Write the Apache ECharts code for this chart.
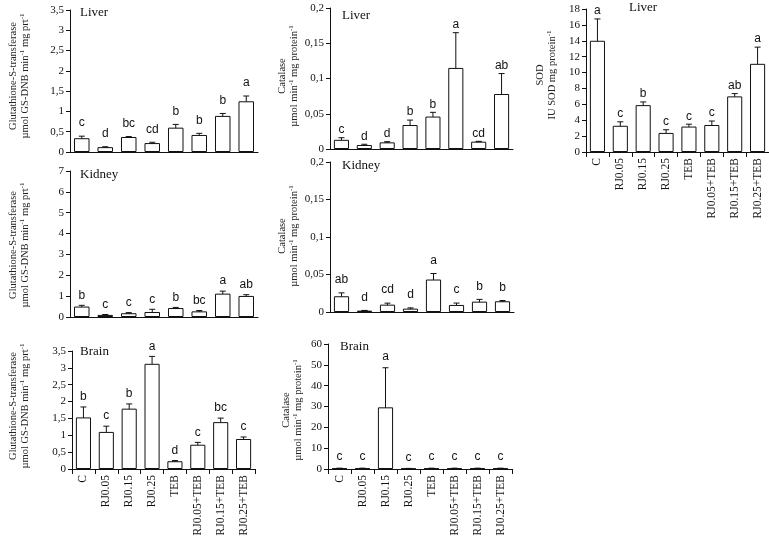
<!DOCTYPE html>
<html>
<head>
<meta charset="utf-8">
<script src="https://cdn.jsdelivr.net/npm/echarts@6/dist/echarts.min.js"></script>
<style>html,body{margin:0;padding:0;background:#fff}#c{width:769px;height:536px}</style>
</head>
<body>
<div id="c"></div>
<script>
var categories = ['C','RJ0.05','RJ0.15','RJ0.25','TEB','RJ0.05+TEB','RJ0.15+TEB','RJ0.25+TEB'];

var gstLiver    = [0.34, 0.12, 0.37, 0.22, 0.60, 0.42, 0.89, 1.25];
var gstLiverErr = [0.05, 0.01, 0.01, 0.02, 0.08, 0.04, 0.06, 0.13];
var gstLiverSig = ['c','d','bc','cd','b','b','b','a'];

var catLiver    = [0.013, 0.0057, 0.0094, 0.034, 0.046, 0.115, 0.0104, 0.078];
var catLiverErr = [0.003, 0.001, 0.001, 0.007, 0.006, 0.05, 0.0005, 0.029];
var catLiverSig = ['c','d','d','b','b','a','cd','ab'];

var sodLiver    = [14.0, 3.3, 5.9, 2.4, 3.2, 3.4, 7.0, 11.1];
var sodLiverErr = [2.75, 0.5, 0.4, 0.4, 0.3, 0.5, 0.35, 2.1];
var sodLiverSig = ['a','c','b','c','c','c','ab','a'];

var gstKidney    = [0.50, 0.10, 0.18, 0.24, 0.43, 0.27, 1.12, 1.01];
var gstKidneyErr = [0.06, 0.02, 0.03, 0.13, 0.03, 0.04, 0.12, 0.06];
var gstKidneySig = ['b','c','c','c','b','bc','a','ab'];

var catKidney    = [0.021, 0.0018, 0.0098, 0.0045, 0.0433, 0.0094, 0.0138, 0.0143];
var catKidneyErr = [0.0045, 0.0003, 0.002, 0.001, 0.008, 0.0025, 0.003, 0.001];
var catKidneySig = ['ab','d','cd','d','a','c','b','b'];

var gstBrain    = [1.53, 1.10, 1.79, 3.12, 0.23, 0.72, 1.39, 0.89];
var gstBrainErr = [0.31, 0.17, 0.14, 0.22, 0.02, 0.07, 0.12, 0.06];
var gstBrainSig = ['b','c','b','a','d','c','bc','c'];

var catBrain    = [0.3, 0.3, 29.6, 0.2, 0.3, 0.3, 0.3, 0.3];
var catBrainErr = [0.1, 0.1, 19.0, 0.1, 0.1, 0.1, 0.1, 0.1];
var catBrainSig = ['c','c','a','c','c','c','c','c'];

var yMin   = [0, 0, 0, 0, 0, 0, 0];
var yMax   = [3.5, 0.2, 18, 7, 0.2, 3.5, 60];
var yStep  = [0.5, 0.05, 2, 1, 0.05, 0.5, 10];

var organs = ['Liver','Liver','Liver','Kidney','Kidney','Brain','Brain'];
var yTitle1 = ['Glutathione-S-transferase','Catalase','SOD','Glutathione-S-transferase','Catalase','Glutathione-S-transferase','Catalase'];
var yTitle2 = [
  '{n|µmol GS-DNB min}{s|-1}{n| mg prt}{s|-1}',
  '{n|µmol min}{s|-1}{n| mg protein}{s|-1}',
  '{n|IU SOD mg protein}{s|-1}',
  '{n|µmol GS-DNB min}{s|-1}{n| mg prt}{s|-1}',
  '{n|µmol min}{s|-1}{n| mg protein}{s|-1}',
  '{n|µmol GS-DNB min}{s|-1}{n| mg prt}{s|-1}',
  '{n|µmol min}{s|-1}{n| mg protein}{s|-1}'
];

var panels = [
  {v: gstLiver,  e: gstLiverErr,  s: gstLiverSig},
  {v: catLiver,  e: catLiverErr,  s: catLiverSig},
  {v: sodLiver,  e: sodLiverErr,  s: sodLiverSig},
  {v: gstKidney, e: gstKidneyErr, s: gstKidneySig},
  {v: catKidney, e: catKidneyErr, s: catKidneySig},
  {v: gstBrain,  e: gstBrainErr,  s: gstBrainSig},
  {v: catBrain,  e: catBrainErr,  s: catBrainSig}
];

// layout (pixels)
var layout = [
  {left: 70,  top: 10,  width: 188, height: 142},
  {left: 330, top: 8,   width: 183, height: 141},
  {left: 586, top: 9,   width: 183, height: 143},
  {left: 70,  top: 171, width: 188, height: 146},
  {left: 330, top: 162, width: 184, height: 150},
  {left: 72,  top: 351, width: 183, height: 118},
  {left: 328, top: 344, width: 184, height: 125}
];
var showCats = [false, false, true, false, false, true, true];
var letterGap = [13, 8, 8, 10, 13, 10, 11];
var titlePos = [[80,14],[342,17],[629,9],[80,176],[342,167],[80,353],[340,348]];
var yTitlePos = [[19,76],[288,76],[546,75],[19,245],[288,236],[19,406],[292,410]];

var SERIF = '"Liberation Serif", "Times New Roman", serif';
var SANS = '"Liberation Sans", Arial, sans-serif';

function fmt(v) { return String(+v.toFixed(4)).replace('.', ','); }

var grid = [], xAxis = [], yAxis = [], series = [], graphic = [];
panels.forEach(function (p, i) {
  grid.push({left: layout[i].left, top: layout[i].top, width: layout[i].width, height: layout[i].height, containLabel: false, outerBoundsMode: 'none'});
  xAxis.push({
    type: 'category', gridIndex: i, data: categories, boundaryGap: true,
    axisLine: {show: true, lineStyle: {color: '#111', width: 1}},
    axisTick: {show: showCats[i], length: 5, inside: false, lineStyle: {color: '#111'}},
    axisLabel: {show: showCats[i], rotate: 90, margin: 6, fontFamily: SERIF, fontSize: 11.5, color: '#111'},
    splitLine: {show: false}
  });
  yAxis.push({
    type: 'value', gridIndex: i, min: yMin[i], max: yMax[i], interval: yStep[i],
    axisLine: {show: true, lineStyle: {color: '#111', width: 1}},
    axisTick: {show: true, length: 4, inside: false, lineStyle: {color: '#111'}},
    axisLabel: {fontFamily: SERIF, fontSize: 11, color: '#111', margin: 6, formatter: fmt},
    splitLine: {show: false}
  });
  series.push({
    type: 'bar', xAxisIndex: i, yAxisIndex: i, data: p.v, barWidth: '66%',
    itemStyle: {color: '#fff', borderColor: '#111', borderWidth: 1},
    silent: true, animation: false
  });
  var errData = p.v.map(function (v, k) { return [k, v, p.e[k]]; });
  series.push({
    type: 'custom', xAxisIndex: i, yAxisIndex: i, data: errData, animation: false, silent: true, clip: false,
    renderItem: (function (sig, gap) {
      return function (params, api) {
        var x = api.value(0), v = api.value(1), e = api.value(2);
        var top = api.coord([x, v + e]);
        var bot = api.coord([x, Math.max(0, v - e)]);
        var cap = 3;
        var st = {stroke: '#111', lineWidth: 1};
        return {type: 'group', children: [
          {type: 'line', shape: {x1: top[0], y1: top[1], x2: bot[0], y2: bot[1]}, style: st},
          {type: 'line', shape: {x1: top[0] - cap, y1: top[1], x2: top[0] + cap, y2: top[1]}, style: st},
          {type: 'line', shape: {x1: bot[0] - cap, y1: bot[1], x2: bot[0] + cap, y2: bot[1]}, style: st},
          {type: 'text', x: top[0], y: top[1] - gap, style: {text: sig[params.dataIndex], fontFamily: SANS, fontSize: 12, fill: '#111', align: 'center', verticalAlign: 'middle'}}
        ]};
      };
    })(p.s, letterGap[i])
  });
  graphic.push({type: 'text', left: titlePos[i][0], top: titlePos[i][1] - 8, style: {text: organs[i], fontFamily: SERIF, fontSize: 13, fill: '#111'}});
  graphic.push({
    type: 'text', x: yTitlePos[i][0], y: yTitlePos[i][1], rotation: Math.PI / 2,
    style: {
      text: yTitle1[i] + '\n' + yTitle2[i], align: 'center', verticalAlign: 'middle', fill: '#222',
      fontFamily: SERIF, fontSize: 10.5, lineHeight: 12,
      rich: {
        n: {fontFamily: SERIF, fontSize: 10.5, fill: '#222', lineHeight: 12},
        s: {fontFamily: SERIF, fontSize: 7, fill: '#222', verticalAlign: 'top', lineHeight: 12}
      }
    }
  });
});

var chart = echarts.init(document.getElementById('c'), null, {renderer: 'canvas'});
chart.setOption({
  animation: false,
  backgroundColor: '#fff',
  grid: grid, xAxis: xAxis, yAxis: yAxis, series: series, graphic: graphic
});
</script>
</body>
</html>
